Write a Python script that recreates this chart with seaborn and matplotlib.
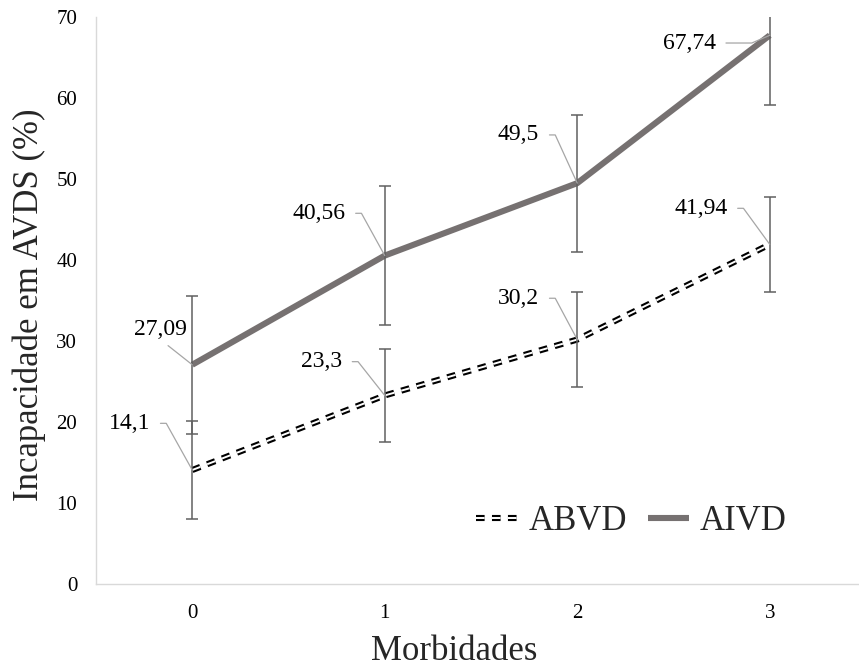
import numpy as np
import pandas as pd
import matplotlib
matplotlib.use("Agg")
import matplotlib.pyplot as plt
import seaborn as sns
from matplotlib.lines import Line2D

# ---- data ----
morbidades = [0, 1, 2, 3]
abvd = [14.1, 23.3, 30.2, 41.94]
aivd = [27.09, 40.56, 49.5, 67.74]
abvd_err = [6.0, 5.75, 5.85, 5.9]
aivd_err = [8.5, 8.55, 8.45, 8.6]
abvd_labels = ["14,1", "23,3", "30,2", "41,94"]
aivd_labels = ["27,09", "40,56", "49,5", "67,74"]
y_ticks = [0, 10, 20, 30, 40, 50, 60, 70]

sns.set_style("white")
plt.rcParams["font.family"] = ["Liberation Serif", "DejaVu Serif"]
plt.rcParams["lines.scale_dashes"] = False

W, H = 859, 671
fig = plt.figure(figsize=(W / 100, H / 100), dpi=100)
ax = fig.add_axes([96 / W, 1 - 584.3 / H, (866 - 96) / W, (584.3 - 17) / H])

df = pd.DataFrame({"m": morbidades, "ABVD": abvd, "AIVD": aivd})

GRAY = "#767171"
sns.lineplot(data=df, x="m", y="AIVD", ax=ax, color=GRAY, lw=4.4,
             errorbar=None, zorder=3, solid_capstyle="butt")
dash = (0, (6.2, 5.3))
sns.lineplot(data=df, x="m", y="ABVD", ax=ax, color="black", lw=4.4,
             errorbar=None, linestyle=dash, zorder=3, dash_capstyle="butt")
sns.lineplot(data=df, x="m", y="ABVD", ax=ax, color="white", lw=1.4,
             errorbar=None, linestyle=dash, zorder=3.1, dash_capstyle="butt")

ERR = "#606060"
ax.errorbar(morbidades, aivd, yerr=aivd_err, fmt="none", ecolor=ERR,
            elinewidth=1.1, capsize=4, capthick=1.1, zorder=4)
ax.errorbar(morbidades, abvd, yerr=abvd_err, fmt="none", ecolor=ERR,
            elinewidth=1.1, capsize=4, capthick=1.1, zorder=4)

# label offsets in pixels: (text right edge dx, text center dy), y up; stub length
aivd_off = [None, (-39.3, 42.3, 16), (-38, 48.2, 16), (-54, -7.7, 36)]
abvd_off = [(-42, 46.7, 16), (-42.7, 33.8, 16), (-38, 41.3, 16), (-42.3, 36.1, 16)]
LEAD = "#a6a6a6"
px2pt = 72 / 100


def put_label(x, y, txt, off):
    dx, dy, stub = off
    theta = np.degrees(np.arctan2(dy, dx + stub))
    ax.annotate(txt, xy=(x, y), xytext=(dx * px2pt, dy * px2pt),
                textcoords="offset points", ha="right", va="center",
                fontsize=17, color="black", zorder=6,
                arrowprops=dict(arrowstyle="-", color=LEAD, lw=0.9,
                                shrinkA=5, shrinkB=0, relpos=(1, 0.5),
                                connectionstyle=f"angle,angleA=0,angleB={theta},rad=0"))


for i, m in enumerate(morbidades):
    put_label(m, abvd[i], abvd_labels[i], abvd_off[i])
    if aivd_off[i] is not None:
        put_label(m, aivd[i], aivd_labels[i], aivd_off[i])
    else:
        ax.annotate(aivd_labels[i], xy=(m, aivd[i]),
                    xytext=(-5.7 * px2pt, 35.5 * px2pt),
                    textcoords="offset points", ha="right", va="center",
                    fontsize=17, color="black", zorder=6,
                    arrowprops=dict(arrowstyle="-", color=LEAD, lw=0.9,
                                    shrinkA=3, shrinkB=0, relpos=(0.51, 0)))

ax.set_xlim(-0.5, 3.5)
ax.set_ylim(0, 70)
ax.set_xticks(morbidades)
ax.set_xticklabels([str(m) for m in morbidades])
ax.set_yticks(y_ticks)
ax.tick_params(axis="both", length=0, labelsize=15, colors="black")
ax.tick_params(axis="y", pad=13.5)
ax.tick_params(axis="x", pad=14)

for s in ["top", "right"]:
    ax.spines[s].set_visible(False)
for s in ["left", "bottom"]:
    ax.spines[s].set_color("#d9d9d9")
    ax.spines[s].set_linewidth(1.0)

ax.set_xlabel("Morbidades", fontsize=25)
ax.set_ylabel("Incapacidade em AVDS (%)", fontsize=25)
ax.xaxis.set_label_coords((454 - 96) / 770, (584.3 - 651) / 567.3)
ax.xaxis.label.set_va("center")
ax.yaxis.set_label_coords((29 - 96) / 770, (584.3 - 304.4) / 567.3)
ax.yaxis.label.set_va("center")

h_abvd = (Line2D([], [], color="black", lw=4.4, linestyle=dash, dash_capstyle="butt"),
          Line2D([], [], color="white", lw=1.4, linestyle=dash, dash_capstyle="butt"))
h_aivd = Line2D([], [], color=GRAY, lw=4.4, solid_capstyle="butt")
fig.legend([h_abvd, h_aivd], ["ABVD", "AIVD"], loc="center",
           bbox_to_anchor=(631.5 / W, 1 - 521.7 / H), ncol=2, frameon=False,
           fontsize=25, handlelength=1.2, handletextpad=0.3, columnspacing=0.6,
           borderpad=0, borderaxespad=0)

fig.savefig("out.png", dpi=100)
